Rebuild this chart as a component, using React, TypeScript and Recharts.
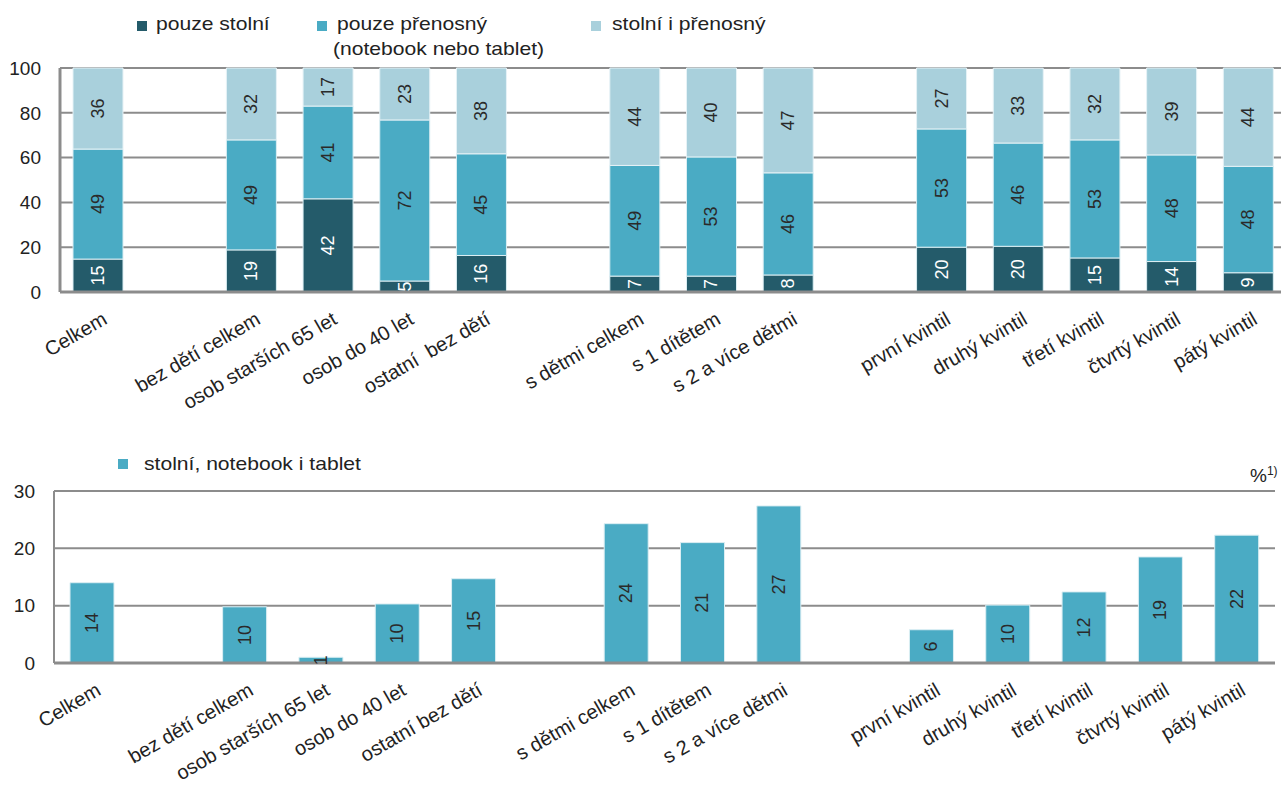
import { Bar, BarChart, CartesianGrid, LabelList, Legend, XAxis, YAxis } from "recharts";

const topCategories = [
  "Celkem", "", "bez dětí celkem", "osob starších 65 let", "osob do 40 let", "ostatní  bez dětí", "",
  "s dětmi celkem", "s 1 dítětem", "s 2 a více dětmi", "",
  "první kvintil", "druhý kvintil", "třetí kvintil", "čtvrtý kvintil", "pátý kvintil",
];
const bottomCategories = [
  "Celkem", "", "bez dětí celkem", "osob starších 65 let", "osob do 40 let", "ostatní bez dětí", "",
  "s dětmi celkem", "s 1 dítětem", "s 2 a více dětmi", "",
  "první kvintil", "druhý kvintil", "třetí kvintil", "čtvrtý kvintil", "pátý kvintil",
];

const pouzeStolni = [14.7, null, 18.8, 41.6, 4.9, 16.3, null, 7.1, 7.1, 7.6, null, 20.0, 20.4, 15.2, 13.6, 8.6];
const pouzePrenosny = [49.1, null, 49.1, 41.4, 71.9, 45.4, null, 49.4, 53.2, 45.6, null, 52.8, 46.1, 52.7, 47.6, 47.5];
const stolniIPrenosny = [36.2, null, 32.1, 17.0, 23.2, 38.3, null, 43.5, 39.7, 46.8, null, 27.2, 33.4, 32.1, 38.8, 43.9];
const vseTri = [14.0, null, 9.8, 1.0, 10.3, 14.7, null, 24.3, 21.0, 27.4, null, 5.8, 10.1, 12.4, 18.5, 22.3];

const topTicks = [0, 20, 40, 60, 80, 100];
const bottomTicks = [0, 10, 20, 30];

const DARK = "#245b6a";
const MID = "#4aabc4";
const LIGHT = "#a9d0dc";
const GRID = "#8c8c8c";
const TEXT = "#222222";
const FONT = "'Liberation Sans', Arial, sans-serif";

const topData = topCategories.map((c, i) => ({
  id: String(i),
  stolni: pouzeStolni[i],
  prenosny: pouzePrenosny[i],
  oba: stolniIPrenosny[i],
}));
const bottomData = bottomCategories.map((c, i) => ({ id: String(i), vse: vseTri[i] }));

function makeTick(labels: string[]) {
  return (props: any) => {
    const { x, y, payload } = props;
    const label = labels[payload.index] ?? "";
    if (!label) return null;
    const tx = x + 10;
    const ty = y + 31;
    return (
      <text
        x={tx}
        y={ty}
        transform={`rotate(-30, ${tx}, ${ty})`}
        textAnchor="end"
        fontSize={20}
        fill={TEXT}
        fontFamily={FONT}
        style={{ whiteSpace: "pre" }}
      >
        {label}
      </text>
    );
  };
}

function makeBarLabel(color: string) {
  return (props: any) => {
    const vb = props.viewBox ?? props;
    const { x, y, width, height } = vb;
    const value = props.value;
    if (value === null || value === undefined) return null;
    const cx = x + width / 2;
    const cy = y + height / 2;
    return (
      <text
        x={cx}
        y={cy}
        transform={`rotate(-90, ${cx}, ${cy})`}
        textAnchor="middle"
        dominantBaseline="central"
        fontSize={18}
        fill={color}
        fontFamily={FONT}
      >
        {Math.round(Number(value))}
      </text>
    );
  };
}

const square = (color: string, left: number, top: number) => (
  <span style={{ position: "absolute", left, top, width: 10, height: 10, background: color }} />
);
const legendText = (text: string, left: number, top: number) => (
  <span
    style={{
      position: "absolute",
      left,
      top,
      fontSize: 18.5,
      lineHeight: "20px",
      color: TEXT,
      whiteSpace: "nowrap",
      transform: "scaleX(1.14)",
      transformOrigin: "left center",
    }}
  >
    {text}
  </span>
);

const TopLegend = () => (
  <div style={{ position: "relative", width: 900, height: 60, fontFamily: FONT }}>
    {square(DARK, 137, 21)}
    {legendText("pouze stolní", 156, 14)}
    {square(MID, 317, 21)}
    {legendText("pouze přenosný", 337, 14)}
    {legendText("(notebook nebo tablet)", 333, 39)}
    {square(LIGHT, 591, 21)}
    {legendText("stolní i přenosný", 612, 14)}
  </div>
);

const BottomLegend = () => (
  <div style={{ position: "relative", width: 400, height: 30, fontFamily: FONT }}>
    {square(MID, 118, 19)}
    {legendText("stolní, notebook i tablet", 144, 14)}
  </div>
);

export default function App() {
  return (
    <div
      style={{
        position: "fixed",
        left: 0,
        top: 0,
        width: 1281,
        height: 792,
        overflow: "hidden",
        background: "#ffffff",
        fontFamily: FONT,
      }}
    >
      <div style={{ position: "absolute", left: 0, top: 0 }}>
        <BarChart width={1290} height={430} data={topData} margin={{ top: 68, right: 3, left: 0, bottom: 0 }} barSize={50}>
          <CartesianGrid vertical={false} stroke={GRID} strokeWidth={2} />
          <XAxis
            dataKey="id"
            interval={0}
            height={138}
            tickLine={false}
            tickSize={0}
            tickMargin={0}
            axisLine={{ stroke: GRID, strokeWidth: 3 }}
            tick={makeTick(topCategories)}
          />
          <YAxis
            width={60}
            domain={[0, 100]}
            ticks={topTicks}
            tickLine={false}
            tickMargin={13}
            axisLine={{ stroke: GRID, strokeWidth: 3 }}
            tick={{ fontSize: 19, fill: TEXT, fontFamily: FONT }}
          />
          <Legend
            layout="horizontal"
            verticalAlign="middle"
            align="center"
            wrapperStyle={{ position: "absolute", top: 0, left: 0, width: 900 }}
            content={() => <TopLegend />}
          />
          <Bar dataKey="stolni" stackId="a" fill={DARK} stroke="#dbeef3" strokeWidth={1} isAnimationActive={false}>
            <LabelList dataKey="stolni" content={makeBarLabel("#ffffff")} />
          </Bar>
          <Bar dataKey="prenosny" stackId="a" fill={MID} stroke="#dbeef3" strokeWidth={1} isAnimationActive={false}>
            <LabelList dataKey="prenosny" content={makeBarLabel("#2a2a2a")} />
          </Bar>
          <Bar dataKey="oba" stackId="a" fill={LIGHT} stroke="#e6f2f6" strokeWidth={1} isAnimationActive={false}>
            <LabelList dataKey="oba" content={makeBarLabel("#2a2a2a")} />
          </Bar>
        </BarChart>
      </div>

      <div style={{ position: "absolute", left: 0, top: 440 }}>
        <BarChart width={1281} height={352} data={bottomData} margin={{ top: 51, right: 6, left: 0, bottom: 0 }} barSize={44}>
          <CartesianGrid vertical={false} stroke={GRID} strokeWidth={2} />
          <XAxis
            dataKey="id"
            interval={0}
            height={129}
            tickLine={false}
            tickSize={0}
            tickMargin={0}
            axisLine={{ stroke: GRID, strokeWidth: 3 }}
            tick={makeTick(bottomCategories)}
          />
          <YAxis
            width={54}
            domain={[0, 30]}
            ticks={bottomTicks}
            tickLine={false}
            tickMargin={13}
            axisLine={{ stroke: GRID, strokeWidth: 2 }}
            tick={{ fontSize: 19, fill: TEXT, fontFamily: FONT }}
          />
          <YAxis yAxisId="frame" orientation="right" width={0} domain={[0, 30]} tick={false} tickLine={false} axisLine={{ stroke: GRID, strokeWidth: 2 }} />
          <Legend
            layout="horizontal"
            verticalAlign="middle"
            align="center"
            wrapperStyle={{ position: "absolute", top: 0, left: 0, width: 400 }}
            content={() => <BottomLegend />}
          />
          <Bar dataKey="vse" fill={MID} stroke="#dbeef3" strokeWidth={1} isAnimationActive={false}>
            <LabelList dataKey="vse" content={makeBarLabel("#2a2a2a")} />
          </Bar>
        </BarChart>
        <div style={{ position: "absolute", left: 1250, top: 24, fontSize: 19, color: TEXT, whiteSpace: "nowrap" }}>
          %<sup style={{ fontSize: 12 }}>1)</sup>
        </div>
      </div>
    </div>
  );
}
